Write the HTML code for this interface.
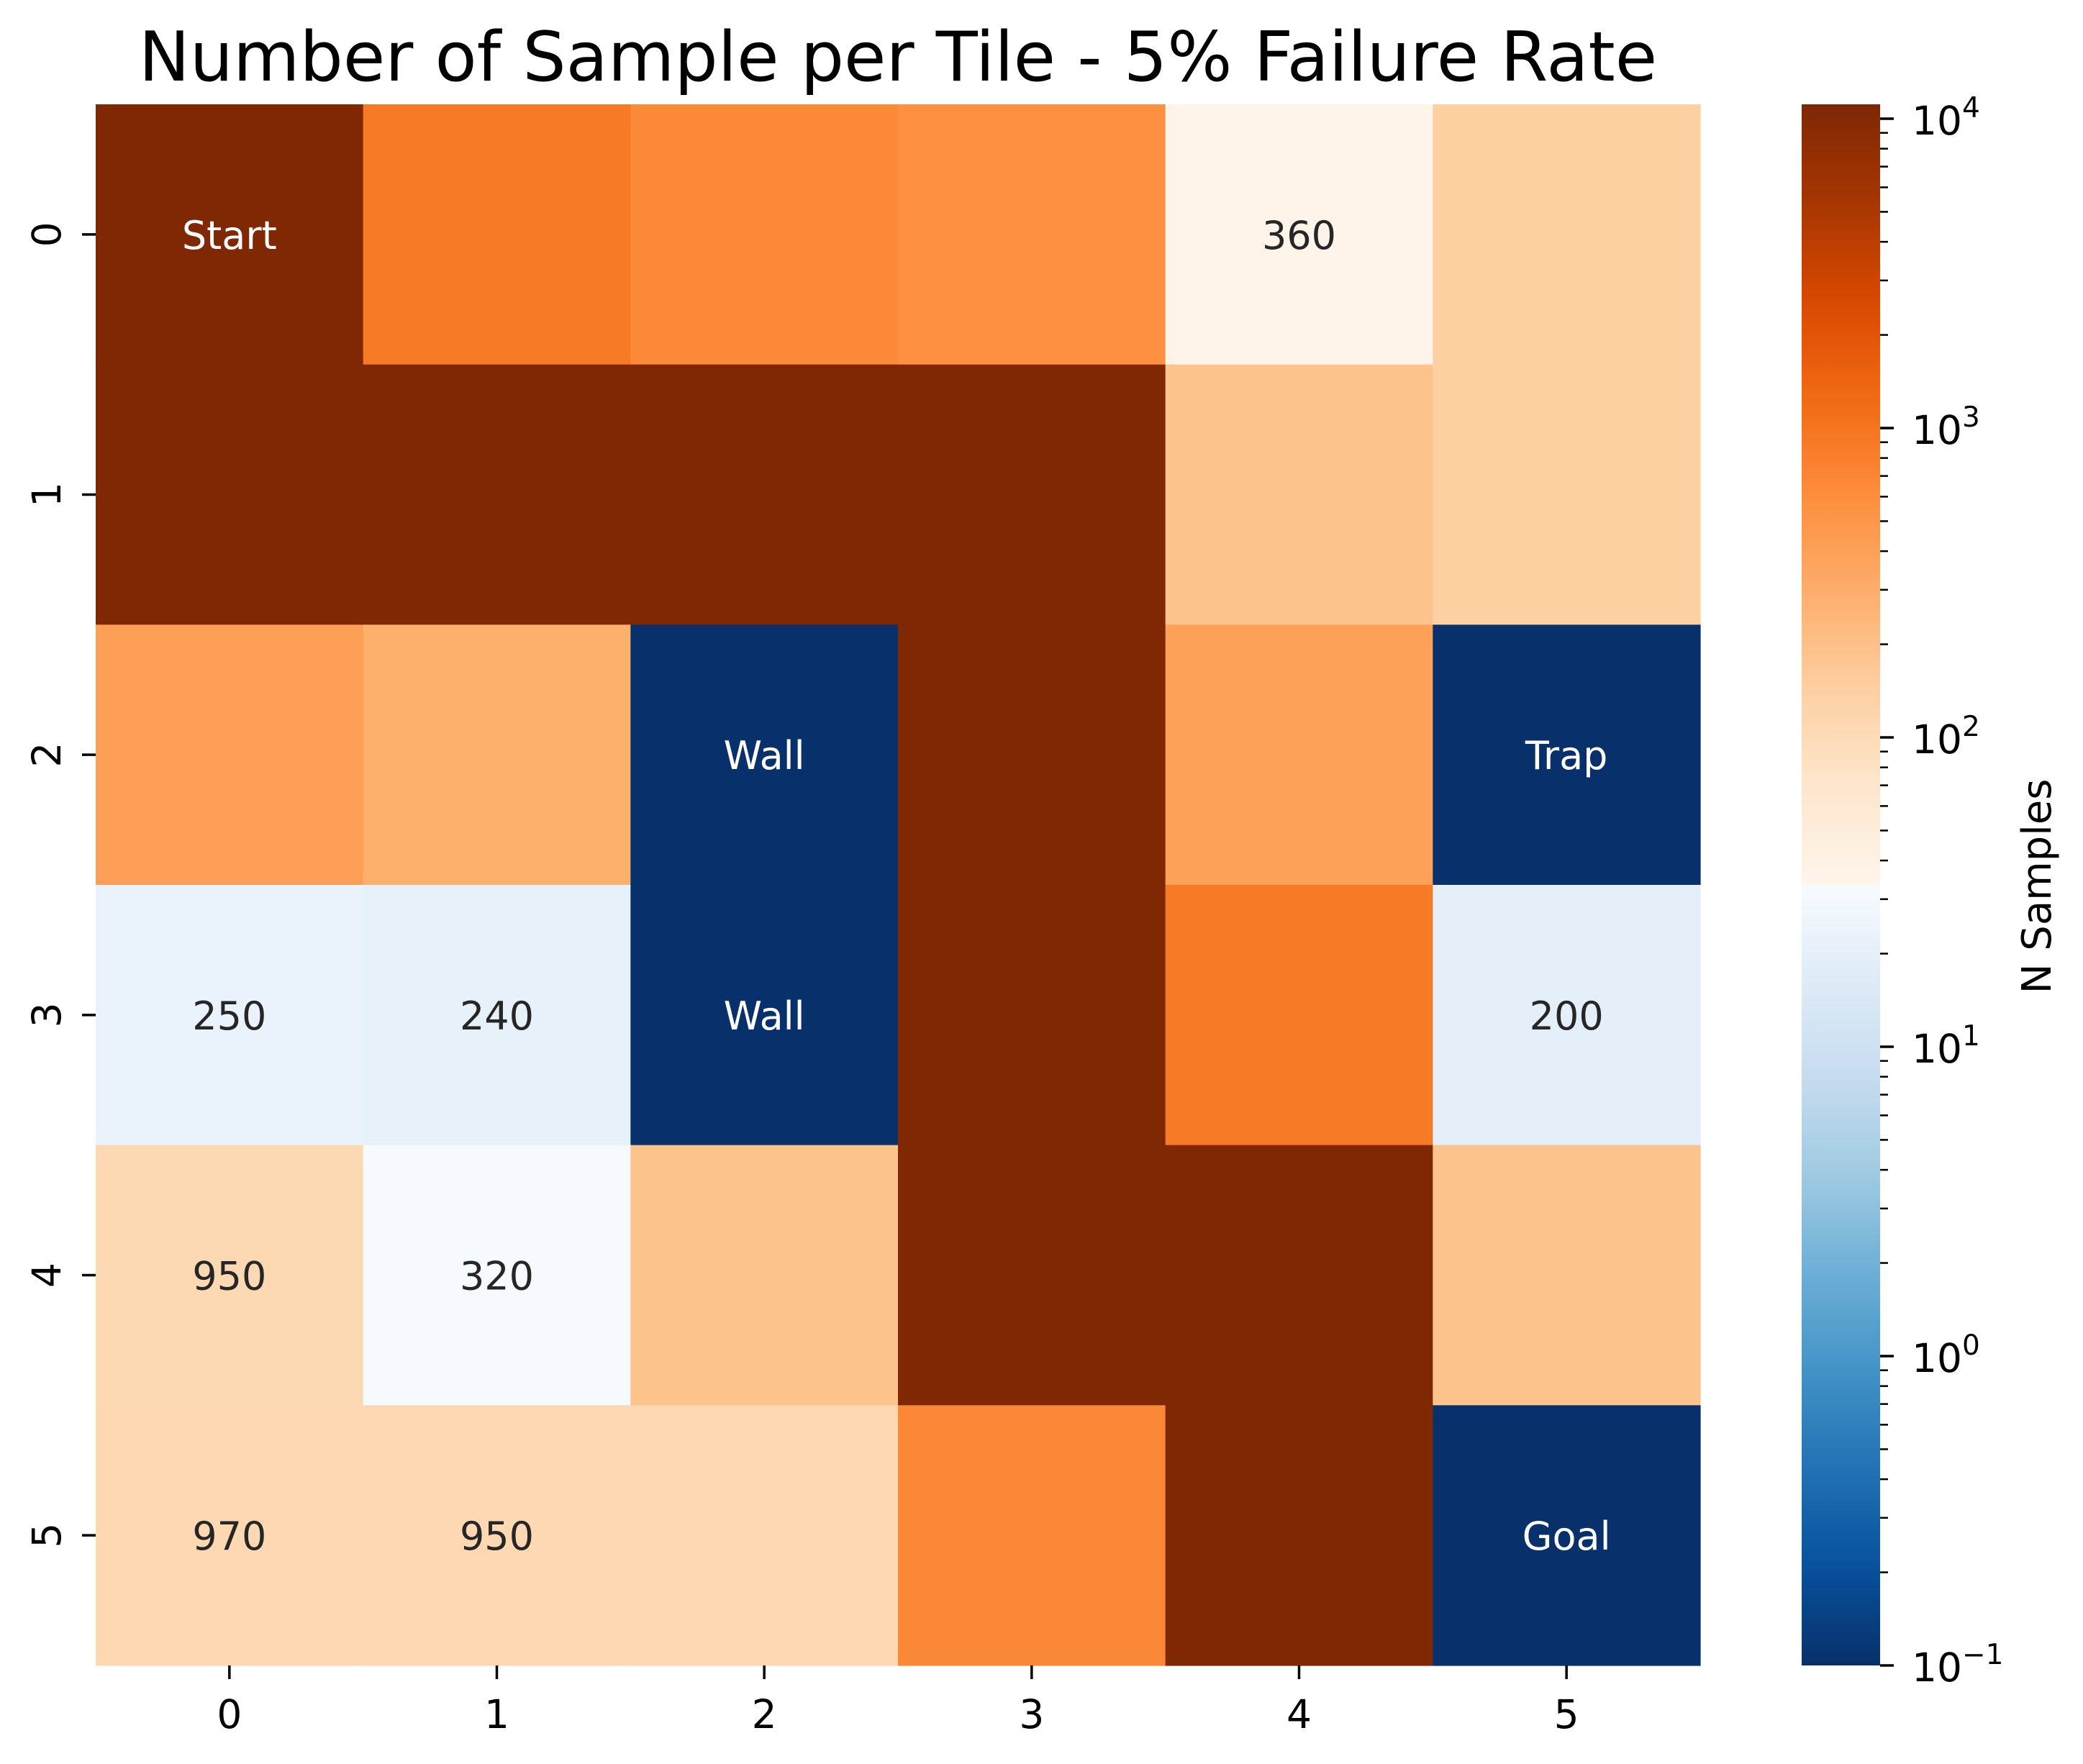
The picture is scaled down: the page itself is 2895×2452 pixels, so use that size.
<!DOCTYPE html>
<html><head><meta charset="utf-8">
<style>
html,body{margin:0;padding:0;background:#fff;}
svg{display:block;font-family:"DejaVu Sans","Liberation Sans",sans-serif;}
</style></head>
<body>
<svg id="chart" width="2895" height="2452" viewBox="0 0 2895 2452" xmlns="http://www.w3.org/2000/svg">
<rect width="2895" height="2452" fill="#fff"/>
<text x="1248" y="112" font-size="95" text-anchor="middle" fill="#000">Number of Sample per Tile - 5% Failure Rate</text>
<g id="cells"></g>
<g id="annots"></g>
<g id="xaxis"></g>
<g id="yaxis"></g>
<defs><linearGradient id="cbgrad" x1="0" y1="1" x2="0" y2="0"></linearGradient></defs>
<g id="cbar"></g>
<text x="2850" y="1232" font-size="56" text-anchor="middle" transform="rotate(-90 2850 1232)" fill="#000">N Samples</text>
</svg>
<script>
const rowLabels = ["0","1","2","3","4","5"];
const colLabels = ["0","1","2","3","4","5"];
const row0 = [11000, 900, 650, 560, 35, 142];
const row1 = [11000, 11000, 11000, 11000, 190, 142];
const row2 = [410, 290, 0.1, 11000, 390, 0.1];
const row3 = [23, 21, 0.1, 11000, 900, 19];
const row4 = [107, 32, 190, 11000, 11000, 190];
const row5 = [110, 110, 110, 680, 11000, 0.1];
const annot0 = ["Start", "", "", "", "360", ""];
const annot1 = ["", "", "", "", "", ""];
const annot2 = ["", "", "Wall", "", "", "Trap"];
const annot3 = ["250", "240", "Wall", "", "", "200"];
const annot4 = ["950", "320", "", "", "", ""];
const annot5 = ["970", "950", "", "", "", "Goal"];
const cbTickExps = [-1, 0, 1, 2, 3, 4];
const cbSupLabels = ["\u22121", "0", "1", "2", "3", "4"];

const NS = "http://www.w3.org/2000/svg";
const rows = [row0,row1,row2,row3,row4,row5];
const annots = [annot0,annot1,annot2,annot3,annot4,annot5];
const X0 = 133, X1 = 2363, Y0 = 145, Y1 = 2315;
const cw = (X1-X0)/colLabels.length, ch = (Y1-Y0)/rowLabels.length;
const LMIN = -1, LMAX = Math.log10(11130), LMID = (LMIN+LMAX)/2;
const CBX = 2504, CBW = 109;
const oranges = ["#fff5eb","#fee6ce","#fdd0a2","#fdae6b","#fd8d3c","#f16913","#d94801","#a63603","#7f2704"];
const blues = ["#08306b","#08519c","#2171b5","#4292c6","#6baed6","#9ecae1","#c6dbef","#deebf7","#f7fbff"];
function hx(c){return [1,3,5].map(i=>parseInt(c.substr(i,2),16));}
function interp(pal,t){t=Math.max(0,Math.min(1,t));const s=t*(pal.length-1);const i=Math.min(pal.length-2,Math.floor(s));const f=s-i;const a=hx(pal[i]),b=hx(pal[i+1]);return "rgb("+a.map((v,k)=>Math.round(v+(b[k]-v)*f)).join(",")+")";}
function colorFor(v){const l=Math.log10(v);if(l>=LMID)return interp(oranges,(l-LMID)/(LMAX-LMID));return interp(blues,(l-LMIN)/(LMID-LMIN));}
function isDark(v){const l=Math.log10(v);if(l>=LMID)return (l-LMID)/(LMAX-LMID)>0.65;return (l-LMIN)/(LMID-LMIN)<0.5;}
function xPos(c){return X0+cw*(c+0.5);}
function yPos(r){return Y0+ch*(r+0.5);}
function cbY(l){return Y1-(l-LMIN)/(LMAX-LMIN)*(Y1-Y0);}
function mk(tag,attrs,parent){const e=document.createElementNS(NS,tag);for(const k in attrs)e.setAttribute(k,attrs[k]);parent.appendChild(e);return e;}

const gc=document.getElementById("cells"), ga=document.getElementById("annots");
rows.forEach((row,r)=>row.forEach((v,c)=>{
  const e=mk("rect",{x:X0+cw*c,y:Y0+ch*r,width:cw+0.6,height:ch+0.6,fill:colorFor(v)},gc);
  
  
  const t=annots[r][c];
  if(t){const tx=mk("text",{x:xPos(c),y:yPos(r)+20,"font-size":"54","text-anchor":"middle",fill:isDark(v)?"#ffffff":"#262626"},ga);
    tx.textContent=t;
    
    }
}));
const gx=document.getElementById("xaxis");
colLabels.forEach((lab,c)=>{
  const tk=mk("line",{x1:xPos(c),x2:xPos(c),y1:Y1,y2:Y1+19,stroke:"#000","stroke-width":"3.5"},gx);
  
  
  const t=mk("text",{x:xPos(c),y:2402,"font-size":"55","text-anchor":"middle",fill:"#000"},gx);
  t.textContent=lab;
  
  
});
const gy=document.getElementById("yaxis");
rowLabels.forEach((lab,r)=>{
  const tk=mk("line",{x1:X0-19,x2:X0,y1:yPos(r),y2:yPos(r),stroke:"#000","stroke-width":"3.5"},gy);
  
  
  const t=mk("text",{x:84,y:yPos(r),"font-size":"55","text-anchor":"middle",fill:"#000",transform:"rotate(-90 84 "+yPos(r)+")"},gy);
  t.textContent=lab;
  
  
});
const grad=document.getElementById("cbgrad");
const midOff=(LMID-LMIN)/(LMAX-LMIN);
for(let i=0;i<=30;i++){const f=i/30;mk("stop",{offset:f*midOff,"stop-color":interp(blues,f)},grad);}
for(let i=0;i<=30;i++){const f=i/30;mk("stop",{offset:midOff+f*(1-midOff),"stop-color":interp(oranges,f)},grad);}
const gb=document.getElementById("cbar");
const bar=mk("rect",{x:CBX,y:Y0,width:CBW,height:Y1-Y0,fill:"url(#cbgrad)"},gb);


cbTickExps.forEach((e,i)=>{
  const y=cbY(e);
  const tk=mk("line",{x1:CBX+CBW,x2:CBX+CBW+19,y1:y,y2:y,stroke:"#000","stroke-width":"3.5"},gb);
  
  
  const t=mk("text",{x:2657,y:y+22,"font-size":"55",fill:"#000"},gb);
  t.textContent="10";
  const s=mk("tspan",{dy:"-24","font-size":"39"},t);
  s.textContent=cbSupLabels[i];
  
  
  for(let m=2;m<=9;m++){const l=e+Math.log10(m);if(l>LMAX)break;const my=cbY(l);
    const mt=mk("line",{x1:CBX+CBW,x2:CBX+CBW+11,y1:my,y2:my,stroke:"#000","stroke-width":"2.5"},gb);
    
    }
});
</script>
</body></html>
